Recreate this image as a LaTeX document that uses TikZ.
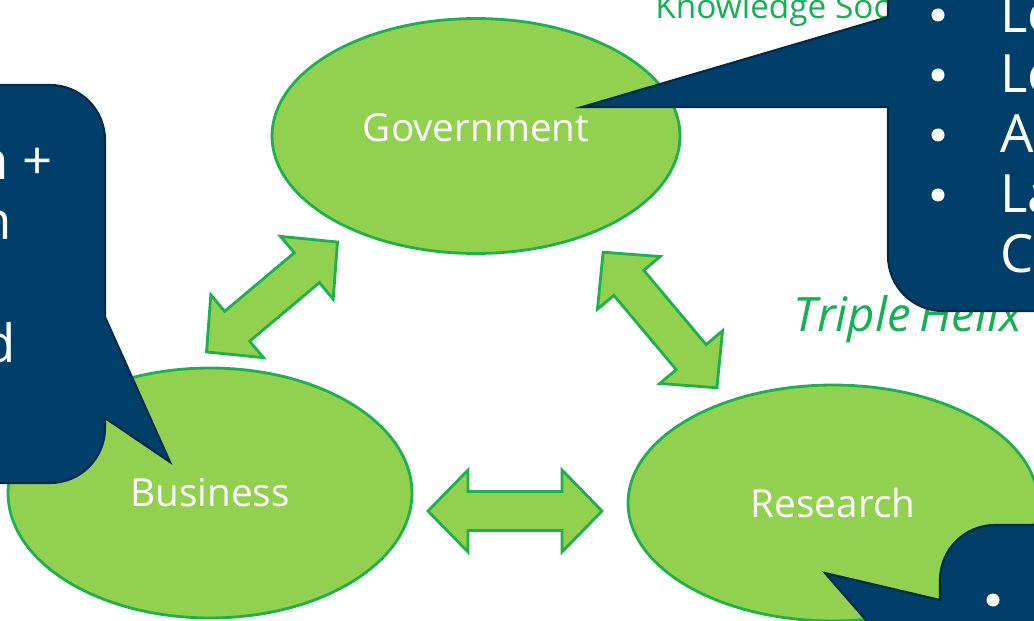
\documentclass[tikz,border=0pt]{standalone}
\usepackage{fontspec}
\setmainfont{Open Sans}
\usetikzlibrary{shapes.geometric}
\definecolor{helixgreen}{RGB}{146,208,80}
\definecolor{helixline}{RGB}{30,176,76}
\definecolor{helixtext}{RGB}{20,176,84}
\definecolor{calloutblue}{RGB}{0,63,106}
\definecolor{calloutline}{RGB}{0,42,74}

\begin{document}
\begin{tikzpicture}[x=0.02cm, y=-0.02cm,
    sector/.style={ellipse, draw=helixline, fill=helixgreen, line width=1.6pt, text=white, font=\fontsize{22}{26}\selectfont},
    linkshape/.style={draw=helixline, fill=helixgreen, line width=1.6pt, line join=miter},
    pics/link/.style={code={
        \pgfmathsetmacro\tipx{#1/2}
        \pgfmathsetmacro\basex{#1/2-0.8}
        \draw[linkshape] ({-\tipx*1cm},0) -- ({-\basex*1cm},{0.82cm}) -- ({-\basex*1cm},{0.39cm})
            -- ({\basex*1cm},{0.39cm}) -- ({\basex*1cm},{0.82cm}) -- ({\tipx*1cm},0)
            -- ({\basex*1cm},{-0.82cm}) -- ({\basex*1cm},{-0.39cm}) -- ({-\basex*1cm},{-0.39cm})
            -- ({-\basex*1cm},{-0.82cm}) -- cycle;
    }},
    callout/.style={fill=calloutblue, draw=calloutline, line width=1.2pt},
    bullet/.style={circle, fill=white, inner sep=0pt, minimum size=0.26cm},
    point/.style={text=white, font=\fontsize{30}{34}\selectfont, inner sep=0pt},
    caption/.style={text=helixtext, inner sep=0pt, font=\fontsize{19}{22}\selectfont}
]
\useasboundingbox (0,0) rectangle (1034,621);
\clip (0,0) rectangle (1034,621);

% Sectors
\node[sector, minimum width=8.16cm, minimum height=4.7cm, text depth=0.32cm] (gov) at (476,136) {Government};
\node[sector, minimum width=8.08cm, minimum height=5cm] (bus) at (210,493) {Business};
\node[sector, minimum width=8.2cm, minimum height=4.72cm] (res) at (833,503) {Research};

% Two-way links
\pic (busres) at (515,511) {link=3.48};
\pic[rotate=40] (govbus) at (272,297) {link=3.42};
\pic[rotate=-50] (govres) at (660,320) {link=3.54};

% Captions
\node[caption, anchor=base west] (society) at (655,19) {Knowledge Soc};
\node[caption, anchor=base west, font=\itshape\fontsize{27}{30}\selectfont] (helix) at (793,332) {Triple\hspace{-2pt} Helix};

% Left callout
\draw[callout] (-60,85) [rounded corners=1.1cm] -- (105,85) [sharp corners] -- (105,317) -- (170,462) -- (105,418) [rounded corners=1.1cm] -- (105,483) [sharp corners] -- (-60,483) -- cycle;
\node[point, anchor=base east] (left1) at (53,180) {n +};
\node[point, anchor=base east] (left2) at (12,240) {n};
\node[point, anchor=base east] (left3) at (16,362) {d};

% Top right callout
\draw[callout] (1100,-60) -- (888,-60) -- (888,17) -- (582,107) -- (888,107) [rounded corners=1.1cm] -- (888,311) [sharp corners] -- (1100,311) -- cycle;
\foreach \y [count=\i] in {15,75,135,195}
    \node[bullet] (dot\i) at (938,\y) {};
\node[point, anchor=base west] (right1) at (1000,33) {Le};
\node[point, anchor=base west] (right2) at (1000,93) {Le};
\node[point, anchor=base west] (right3) at (1000,153) {Ar};
\node[point, anchor=base west] (right4) at (1000,213) {La};
\node[point, anchor=base west] (right5) at (1000,273) {Cl};

% Bottom right callout
\draw[callout] (1100,525) [rounded corners=1.1cm] -- (940,525) [sharp corners] -- (940,600) -- (825,573) -- (905,665) -- (1100,665) -- cycle;
\node[bullet] (dot5) at (993,600) {};

\end{tikzpicture}
\end{document}
